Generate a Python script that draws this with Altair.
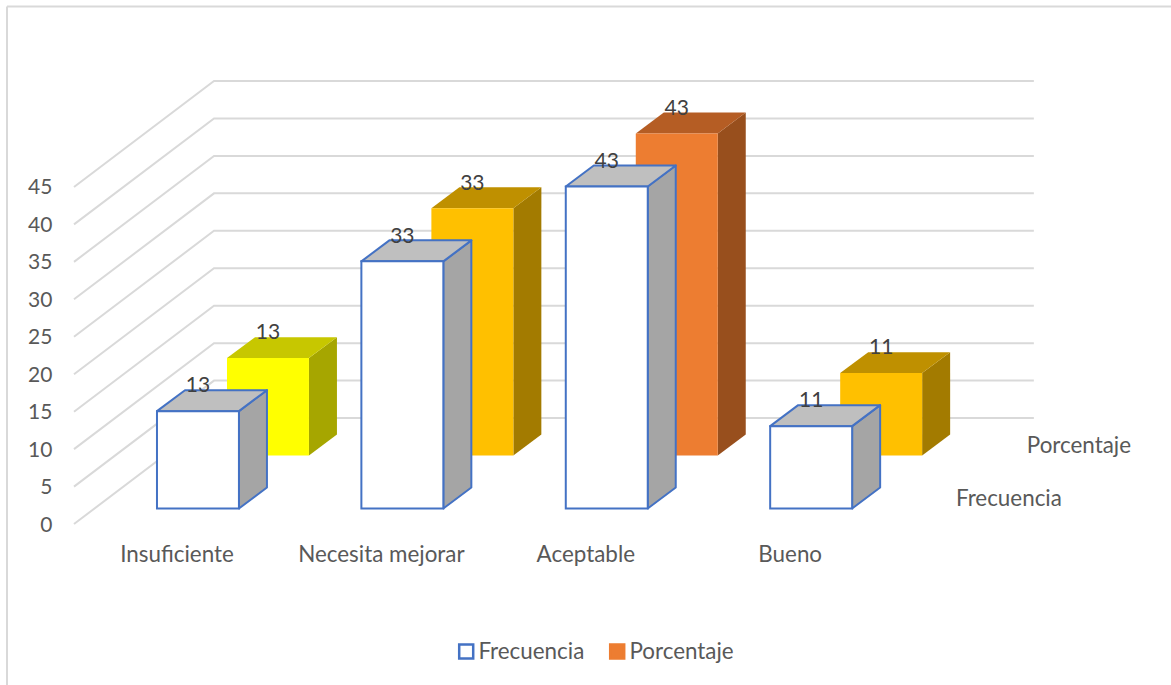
import altair as alt
import pandas as pd

# Values shown in the chart
categories = ["Insuficiente", "Necesita mejorar", "Aceptable", "Bueno"]
frecuencia = [13, 33, 43, 11]
porcentaje = [13, 33, 43, 11]
value_ticks = [0, 5, 10, 15, 20, 25, 30, 35, 40, 45]
series_names = ["Frecuencia", "Porcentaje"]

# Face colours of each box: front, top, side
frecuencia_faces = ("#FFFFFF", "#BFBFBF", "#A5A5A5")
porcentaje_faces = [
    ("#FFFF00", "#C7C700", "#A6A600"),
    ("#FFC000", "#BF9000", "#A37B00"),
    ("#ED7D31", "#B55D24", "#984F1D"),
    ("#FFC000", "#BF9000", "#A37B00"),
]
EDGE = "#4472C4"
GRID = "#D9D9D9"
LABEL = "#595959"
VALUE_LABEL = "#404040"
FONT = "Lato"

# Oblique projection, in category units (x) and value units (y)
BAR_W = 0.401
BOX_DX, BOX_DY = 0.137, 2.8
SERIES_DX, SERIES_DY = 0.3425, 7.08
FLOOR_DROP = 2.07
WALL_LEFT, WALL_RIGHT = -0.406, 4.29
WALL_DX, WALL_DY = 0.685, 14.15
LABEL_RISE = 3.3

fronts, sides, tops, values = [], [], [], []
for s, (name, series) in enumerate(zip(series_names, [frecuencia, porcentaje])):
    for i, v in enumerate(series):
        faces = frecuencia_faces if s == 0 else porcentaje_faces[i]
        edge = EDGE if s == 0 else "transparent"
        left = i + s * SERIES_DX
        right = left + BAR_W
        base = s * SERIES_DY
        top = base + v
        key = f"{name}-{i}"
        fronts.append(dict(l=left, r=right, b=base, t=top, fill=faces[0], edge=edge))
        for step in (0, 1):
            sides.append(dict(key=key, x=right + step * BOX_DX,
                              hi=top + step * BOX_DY, lo=base + step * BOX_DY,
                              fill=faces[2], edge=edge))
            tops.append(dict(key=key, y=top + step * BOX_DY,
                             l=left + step * BOX_DX, r=right + step * BOX_DX,
                             fill=faces[1], edge=edge))
        values.append(dict(x=left + BAR_W / 2, y=top + LABEL_RISE, text=str(v), s=s))

fronts, sides, tops, values = map(pd.DataFrame, (fronts, sides, tops, values))

grid = pd.DataFrame([
    dict(tick=k, order=o, x=x, y=k - FLOOR_DROP + dy)
    for k in value_ticks
    for o, (x, dy) in enumerate([
        (WALL_LEFT, 0),
        (WALL_LEFT + WALL_DX, WALL_DY),
        (WALL_RIGHT, WALL_DY),
    ])
])
tick_labels = pd.DataFrame(dict(x=[-0.512] * len(value_ticks),
                                y=[k - FLOOR_DROP for k in value_ticks],
                                text=[str(k) for k in value_ticks]))
cat_labels = pd.DataFrame(dict(x=[i + 0.098 for i in range(len(categories))],
                               y=[-6.2] * len(categories), text=categories))
depth_labels = pd.DataFrame(dict(x=[4.168 + s * SERIES_DX for s in range(2)],
                                 y=[1.27 + s * SERIES_DY for s in range(2)],
                                 text=series_names))
legend_rows = pd.DataFrame(dict(serie=series_names))

x_scale = alt.Scale(domain=[-0.768, 4.961], range=[0, 1171], nice=False, zero=False)
y_scale = alt.Scale(domain=[-23.56, 67.89], range=[685, 0], nice=False, zero=False)
X = lambda f: alt.X(f, type="quantitative", scale=x_scale, axis=None)
Y = lambda f: alt.Y(f, type="quantitative", scale=y_scale, axis=None, stack=None)
FILL = alt.Fill("fill:N", scale=None)
STROKE = alt.Stroke("edge:N", scale=None)


def face_layers(series_index):
    """Side, top and front faces of one row of boxes."""
    f = fronts.iloc[[k for k in range(len(fronts)) if k // 4 == series_index]]
    s = sides.iloc[[k for k in range(len(sides)) if k // 8 == series_index]]
    t = tops.iloc[[k for k in range(len(tops)) if k // 8 == series_index]]
    side = alt.Chart(s).mark_area(orient="vertical", strokeWidth=2, strokeJoin="round").encode(
        x=X("x"), y=Y("hi"), y2="lo", fill=FILL, stroke=STROKE, detail="key:N")
    top = alt.Chart(t).mark_area(orient="horizontal", strokeWidth=2, strokeJoin="round").encode(
        y=Y("y"), x=X("l"), x2="r", fill=FILL, stroke=STROKE, detail="key:N")
    front = alt.Chart(f).mark_rect(strokeWidth=2).encode(
        x=X("l"), x2="r", y=Y("b"), y2="t", fill=FILL, stroke=STROKE)
    return [side, top, front]


def text_layer(df, align="center", color=LABEL, size=22.4, dy=0):
    return alt.Chart(df).mark_text(align=align, baseline="middle", font=FONT,
                                   fontSize=size, color=color, dy=dy).encode(
        x=X("x"), y=Y("y"), text="text:N")


border_top = alt.Chart(legend_rows.head(1)).mark_rule(color=GRID, strokeWidth=2).encode(
    x=alt.value(7), x2=alt.value(1171), y=alt.value(6.5))
border_left = alt.Chart(legend_rows.head(1)).mark_rule(color=GRID, strokeWidth=2).encode(
    x=alt.value(7), y=alt.value(6.5), y2=alt.value(685))

grid_lines = alt.Chart(grid).mark_line(color=GRID, strokeWidth=2).encode(
    x=X("x"), y=Y("y"), detail="tick:N", order="order:Q")

# Off-canvas points that carry the legend's scales
series_legend = alt.Legend(title=None, orient="none", direction="horizontal",
                           legendX=455, legendY=640, columns=2, columnPadding=20,
                           symbolType="square", symbolSize=196, symbolStrokeWidth=2.5,
                           labelFont=FONT, labelFontSize=22.4, labelColor=LABEL,
                           labelOffset=1, symbolOpacity=1)
legend_layer = alt.Chart(legend_rows).mark_point(shape="square", filled=True, strokeWidth=2).encode(
    x=alt.value(-50), y=alt.value(-50),
    fill=alt.Fill("serie:N", scale=alt.Scale(domain=series_names, range=["#FFFFFF", "#ED7D31"]),
                  legend=series_legend),
    stroke=alt.Stroke("serie:N", scale=alt.Scale(domain=series_names, range=[EDGE, "#ED7D31"]),
                      legend=series_legend),
)

chart = alt.layer(
    border_top, border_left, grid_lines,
    *face_layers(1),
    text_layer(values[values.s == 1], color=VALUE_LABEL, size=21),
    *face_layers(0),
    text_layer(values[values.s == 0], color=VALUE_LABEL, size=21),
    text_layer(tick_labels, align="right", size=21, dy=1.5),
    text_layer(cat_labels),
    text_layer(depth_labels),
    legend_layer,
).properties(
    width=1171, height=685, padding=0, background="white",
    autosize=alt.AutoSizeParams(type="none"),
).configure_view(stroke=None)

chart.save("out.html", embed_options={"renderer": "svg", "actions": False})
